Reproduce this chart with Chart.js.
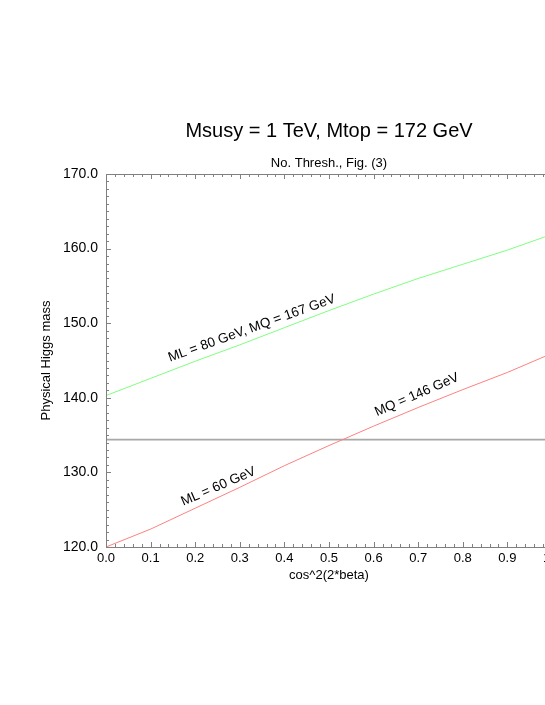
<!DOCTYPE html>
<html>
<head>
<meta charset="utf-8">
<script src="https://cdn.jsdelivr.net/npm/chart.js@4.4.1/dist/chart.umd.min.js"></script>
<style>
  html, body { margin: 0; padding: 0; background: #fff; overflow: hidden; }
  canvas { display: block; }
</style>
</head>
<body>
<canvas id="higgs" width="566" height="705"></canvas>
<script>
// values
const cos2beta   = [0.0, 0.1, 0.2, 0.3, 0.4, 0.5, 0.6, 0.7, 0.8, 0.9, 0.99];
const massGreen  = [140.3, 142.6, 144.9, 147.1, 149.4, 151.7, 153.9, 156.0, 157.9, 159.8, 161.7];
const massRed    = [120.0, 122.4, 125.2, 128.0, 130.9, 133.6, 136.2, 138.7, 141.1, 143.4, 145.7];
const refMass    = 134.4;
const xTicks     = [0.0, 0.1, 0.2, 0.3, 0.4, 0.5, 0.6, 0.7, 0.8, 0.9, 1.0];
const yTicks     = [120, 130, 140, 150, 160, 170];
const curveNotes = ["ML = 80 GeV, MQ = 167 GeV", "ML = 60 GeV", "MQ = 146 GeV"];
const mainTitle  = "Msusy = 1 TeV, Mtop = 172 GeV";
const subTitle   = "No. Thresh., Fig. (3)";

const FONT = "'Liberation Sans', Arial, Helvetica, sans-serif";
const AXIS = "#808080";

function toPoints(xs, ys) {
  return xs.map((x, i) => ({ x: x, y: ys[i] }));
}

// where the notes sit (data coords) and how far they lean
const notePlaces = [
  { x: 0.327, y: 149.3, angle: -19.8 },
  { x: 0.252, y: 128.1, angle: -23.4 },
  { x: 0.697, y: 140.4, angle: -23.6 },
];

// IDL-style frame: axis lines with ticks pointing into the plot,
// titles centred over the plot area rather than the canvas
const framePlugin = {
  id: "frame",
  afterDatasetsDraw(chart) {
    const { ctx, chartArea: a } = chart;
    const xs = chart.scales.x, ys = chart.scales.y;
    ctx.save();
    ctx.strokeStyle = AXIS;
    ctx.lineWidth = 1;
    ctx.beginPath();
    ctx.moveTo(a.left + 0.5, a.top + 0.5);
    ctx.lineTo(a.left + 0.5, a.bottom + 0.5);
    ctx.lineTo(a.right + 0.5, a.bottom + 0.5);
    ctx.moveTo(a.left + 0.5, a.top + 0.5);
    ctx.lineTo(a.right + 0.5, a.top + 0.5);

    for (let i = 0; i <= 50; i++) {
      const v = i * 0.02;
      const px = Math.round(xs.getPixelForValue(v)) + 0.5;
      const len = i % 5 === 0 ? 5 : 3;
      ctx.moveTo(px, a.bottom);
      ctx.lineTo(px, a.bottom - len);
      ctx.moveTo(px, a.top);
      ctx.lineTo(px, a.top + len);
    }
    for (let v = 120; v <= 170; v++) {
      const py = Math.round(ys.getPixelForValue(v)) + 0.5;
      const len = v % 10 === 0 ? 5 : 3;
      ctx.moveTo(a.left, py);
      ctx.lineTo(a.left + len, py);
    }
    ctx.stroke();

    ctx.fillStyle = "#000";
    ctx.textAlign = "center";
    ctx.textBaseline = "middle";
    const cx = (a.left + a.right) / 2;
    ctx.font = "20px " + FONT;
    ctx.fillText(mainTitle, cx, a.top - 43);
    ctx.font = "13px " + FONT;
    ctx.fillText(subTitle, cx, a.top - 11);

    ctx.font = "13.5px " + FONT;
    curveNotes.forEach((txt, i) => {
      const p = notePlaces[i];
      ctx.save();
      ctx.translate(xs.getPixelForValue(p.x), ys.getPixelForValue(p.y));
      ctx.rotate(p.angle * Math.PI / 180);
      ctx.fillText(txt, 0, 0);
      ctx.restore();
    });
    ctx.restore();
  }
};

new Chart(document.getElementById("higgs"), {
  type: "scatter",
  data: {
    datasets: [
      {
        label: "ML = 80 GeV, MQ = 167 GeV",
        data: toPoints(cos2beta, massGreen),
        showLine: true,
        borderColor: "#7fff7f",
        borderWidth: 1,
        pointRadius: 0,
        tension: 0,
      },
      {
        label: "ML = 60 GeV, MQ = 146 GeV",
        data: toPoints(cos2beta, massRed),
        showLine: true,
        borderColor: "#ff8080",
        borderWidth: 1,
        pointRadius: 0,
        tension: 0,
      },
      {
        label: "reference",
        data: [{ x: xTicks[0], y: refMass }, { x: xTicks[xTicks.length - 1], y: refMass }],
        showLine: true,
        borderColor: "#a8a8a8",
        borderWidth: 1.6,
        pointRadius: 0,
      },
    ],
  },
  options: {
    responsive: false,
    animation: false,
    events: [],
    layout: { padding: { left: 0, right: 14, top: 174, bottom: 118 } },
    plugins: {
      legend: { display: false },
      tooltip: { enabled: false },
      title: { display: false },
    },
    scales: {
      x: {
        type: "linear",
        position: "bottom",
        min: xTicks[0],
        max: xTicks[xTicks.length - 1],
        afterBuildTicks: (s) => { s.ticks = xTicks.map((v) => ({ value: v })); },
        afterFit: (s) => { s.height = 40; },
        grid: { display: false, drawTicks: false },
        border: { display: false },
        ticks: {
          color: "#000",
          font: { family: FONT, size: 13 },
          padding: 4,
          maxRotation: 0,
          callback: (v) => v.toFixed(1),
        },
        title: {
          display: true,
          text: "cos^2(2*beta)",
          color: "#000",
          font: { family: FONT, size: 13 },
          padding: { top: 0, bottom: 4 },
        },
      },
      y: {
        type: "linear",
        position: "left",
        min: yTicks[0],
        max: yTicks[yTicks.length - 1],
        afterBuildTicks: (s) => { s.ticks = yTicks.map((v) => ({ value: v })); },
        afterFit: (s) => { s.width = 106; },
        grid: { display: false, drawTicks: false },
        border: { display: false },
        ticks: {
          color: "#000",
          font: { family: FONT, size: 14 },
          padding: 8,
          callback: (v) => v.toFixed(1),
        },
        title: {
          display: true,
          text: "Physical Higgs mass",
          color: "#000",
          font: { family: FONT, size: 13 },
          padding: { top: 39, bottom: 0 },
        },
      },
    },
  },
  plugins: [framePlugin],
});
</script>
</body>
</html>
